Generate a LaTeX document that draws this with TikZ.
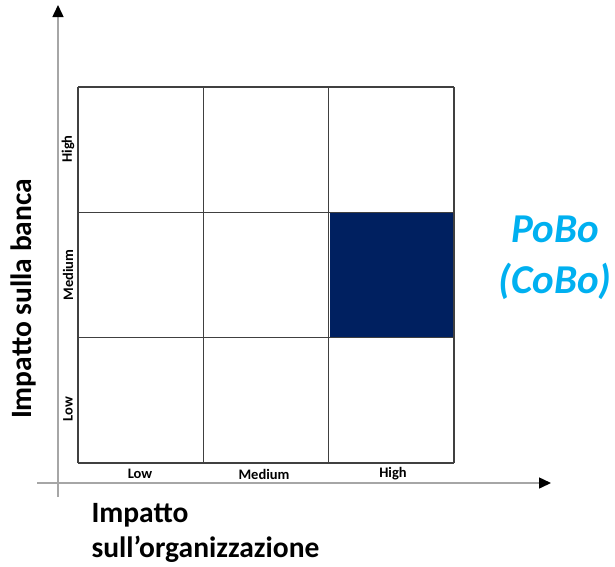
\documentclass[tikz,border=0pt]{standalone}
\usepackage{fontspec}
\setmainfont{Carlito}
\usepackage{xcolor}
\usetikzlibrary{arrows.meta,positioning}
\definecolor{navy}{HTML}{002060}
\definecolor{cyanlbl}{HTML}{00B0F0}
\definecolor{axisgray}{HTML}{A6A6A6}

\begin{document}
\begin{tikzpicture}[x=1pt,y=-1pt,
	axis/.style={axisgray,line width=1.5pt,-{Triangle[color=black,length=12pt,width=11pt]}},
	cell/.style={black!75,line width=1.2pt},
	level/.style={font=\fontsize{14.5}{16}\selectfont\bfseries},
	title/.style={font=\fontsize{29.5}{35}\selectfont\bfseries,align=left}]
		\useasboundingbox (0,0) rectangle (615,566);
		
		\coordinate (xstart) at (37,483);
		\coordinate (xend) at (551,483);
		\coordinate (ystart) at (58,497);
		\coordinate (yend) at (58,5);
		\draw[axis] (xstart) -- (xend);
		\draw[axis] (ystart) -- (yend);
		
		% highlighted cell
		\fill[navy] (329.67,212.33) rectangle (454,337.67);
		
		\foreach \i in {0,...,3} {
			\draw[cell] (78+125.33*\i,87) -- (78+125.33*\i,463);
			\draw[cell] (78,87+125.33*\i) -- (454,87+125.33*\i);
		}
		
		\node[level] (xlow) at (140,474) {Low};
		\node[level] (xmed) at (264,474) {Medium};
		\node[level] (xhigh) at (393,474) {High};
		
		\node[level,rotate=90] (ylow) at (68,409) {Low};
		\node[level,rotate=90] (ymed) at (68,275) {Medium};
		\node[level,rotate=90] (yhigh) at (68,149) {High};
		
		\node[title,rotate=90] (ylabel) at (23,299) {Impatto sulla banca};
		\node[title,anchor=west] (xlabel) at (88,533) {Impatto\\sull’organizzazione};
		
		\node[font=\fontsize{41}{45}\selectfont\bfseries\itshape,text=cyanlbl] (pobo) at (555,229) {PoBo};
		\node[font=\fontsize{41}{45}\selectfont\bfseries\itshape,text=cyanlbl] (cobo) at (555,281) {(CoBo)};
\end{tikzpicture}
\end{document}
